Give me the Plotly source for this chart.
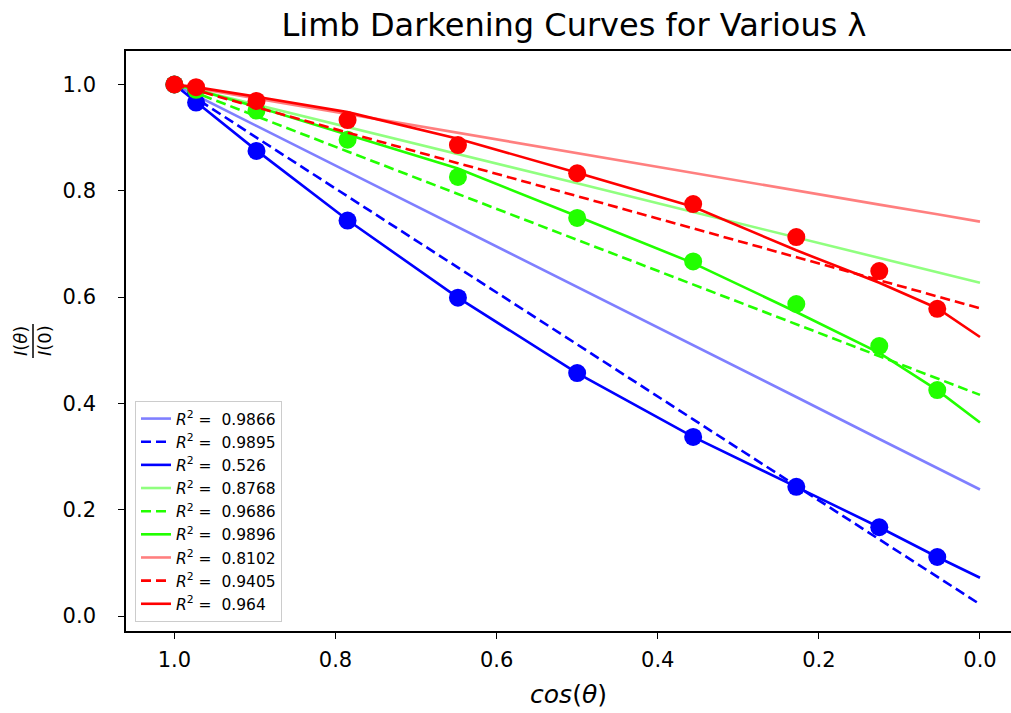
import plotly.graph_objects as go

# x positions (cos theta) of the measured points
mu_pts = [1.0, 0.973, 0.898, 0.785, 0.648, 0.5, 0.356, 0.228, 0.125, 0.053]
# x positions used for the fitted curves (same points plus 0.0)
mu_fit = [1.0, 0.973, 0.898, 0.785, 0.648, 0.5, 0.356, 0.228, 0.125, 0.053, 0.0]

# measured intensities
blue_pts = [1.0, 0.966, 0.875, 0.744, 0.599, 0.457, 0.337, 0.243, 0.167, 0.111]
green_pts = [1.0, 0.990, 0.951, 0.896, 0.826, 0.749, 0.667, 0.587, 0.508, 0.425]
red_pts = [1.0, 0.995, 0.969, 0.933, 0.886, 0.833, 0.775, 0.713, 0.649, 0.578]

# fitted curves (light = linear, dashed, solid)
blue_lin = [1.0, 0.979, 0.922, 0.836, 0.732, 0.619, 0.509, 0.412, 0.333, 0.278, 0.238]
blue_dash = [1.0, 0.974, 0.900, 0.790, 0.656, 0.511, 0.370, 0.245, 0.144, 0.074, 0.022]
blue_solid = [1.0, 0.967, 0.876, 0.745, 0.599, 0.457, 0.337, 0.243, 0.167, 0.111, 0.072]
green_lin = [1.0, 0.990, 0.962, 0.920, 0.869, 0.814, 0.760, 0.712, 0.674, 0.647, 0.627]
green_dash = [1.0, 0.984, 0.940, 0.874, 0.794, 0.708, 0.624, 0.549, 0.489, 0.447, 0.416]
green_solid = [1.0, 0.990, 0.958, 0.906, 0.842, 0.752, 0.664, 0.572, 0.495, 0.425, 0.364]
red_lin = [1.0, 0.993, 0.974, 0.945, 0.909, 0.871, 0.834, 0.801, 0.774, 0.756, 0.742]
red_dash = [1.0, 0.989, 0.957, 0.909, 0.852, 0.790, 0.729, 0.675, 0.632, 0.601, 0.579]
red_solid = [1.0, 0.995, 0.977, 0.948, 0.898, 0.834, 0.770, 0.688, 0.627, 0.579, 0.525]

r2_labels = ["0.9866", "0.9895", "0.526", "0.8768", "0.9686", "0.9896", "0.8102", "0.9405", "0.964"]

title_text = "Limb Darkening Curves for Various λ"
xlabel = "<i>cos</i>(<i>θ</i>)"
xticks = [1.0, 0.8, 0.6, 0.4, 0.2, 0.0]
yticks = [0.0, 0.2, 0.4, 0.6, 0.8, 1.0]

colors = {
    "blue": ("#0000ff", "rgba(0,0,255,0.5)"),
    "green": ("#22ff00", "rgba(34,255,0,0.5)"),
    "red": ("#ff0000", "rgba(255,0,0,0.5)"),
}

groups = [
    ("blue", blue_pts, blue_lin, blue_dash, blue_solid),
    ("green", green_pts, green_lin, green_dash, green_solid),
    ("red", red_pts, red_lin, red_dash, red_solid),
]

fig = go.Figure()
lw = 2.6
k = 0
for name, pts, lin, dash, solid in groups:
    c, ca = colors[name]
    fig.add_trace(go.Scatter(x=mu_pts, y=pts, mode="markers",
                             marker=dict(color=c, size=18, line=dict(width=0)),
                             showlegend=False, hoverinfo="skip"))
    for ys, col, dsh in [(lin, ca, "solid"), (dash, c, "10px,5px"), (solid, c, "solid")]:
        fig.add_trace(go.Scatter(x=mu_fit, y=ys, mode="lines",
                                 line=dict(color=col, width=lw, dash=dsh),
                                 name="<i>R</i><sup>2</sup> =  " + r2_labels[k]))
        k += 1

L, R, T, B = 126, 0, 51, 82
W, H = 1011, 713
pw = W - L - R

def px(xpix):
    return (xpix - L) / pw

fig.update_layout(
    width=W, height=H,
    margin=dict(l=L, r=R, t=T, b=B, pad=0),
    paper_bgcolor="white", plot_bgcolor="white",
    font=dict(family="DejaVu Sans", color="black"),
    title=dict(text=title_text, x=px(574), xref="paper", xanchor="center",
               y=1 - 25 / H, yanchor="middle", font=dict(size=32, color="black")),
    showlegend=True,
    legend=dict(x=px(135), y=(631 - 622) / (H - T - B), xanchor="left", yanchor="bottom",
                bgcolor="rgba(255,255,255,0.8)", bordercolor="#cccccc", borderwidth=1,
                font=dict(size=15.5, color="black"), tracegroupgap=0, itemwidth=30),
)

fig.update_xaxes(range=[1.060, -0.0385], tickvals=xticks, ticktext=[f"{v:.1f}" for v in xticks],
                 showline=True, mirror=True, linecolor="black", linewidth=1.6,
                 ticks="outside", ticklen=6, tickwidth=1.4, tickcolor="black",
                 showgrid=False, zeroline=False, tickfont=dict(size=21), ticklabelstandoff=3,
                 title=dict(text=xlabel, font=dict(size=25), standoff=14))
fig.update_yaxes(range=[-0.0282, 1.063], tickvals=yticks, ticktext=[f"{v:.1f}" for v in yticks],
                 showline=True, mirror=False, linecolor="black", linewidth=1.6,
                 ticks="outside", ticklen=6, tickwidth=1.4, tickcolor="black",
                 showgrid=False, zeroline=False, tickfont=dict(size=21), ticklabelstandoff=18)

# y-axis label as a stacked fraction I(θ)/I(0)
cy = 1 - (341 - T) / (H - T - B)
fig.add_annotation(text="<i>I</i>(<i>θ</i>)", x=px(20), y=cy, xref="paper", yref="paper",
                   textangle=-90, showarrow=False, font=dict(size=18), xanchor="center", yanchor="middle")
fig.add_annotation(text="<i>I</i>(0)", x=px(44), y=cy, xref="paper", yref="paper",
                   textangle=-90, showarrow=False, font=dict(size=18), xanchor="center", yanchor="middle")
fig.add_shape(type="line", xref="paper", yref="paper", x0=px(33), x1=px(33),
              y0=1 - (324 - T) / (H - T - B), y1=1 - (358 - T) / (H - T - B),
              line=dict(color="black", width=1.5))

fig.write_html("out.html")
